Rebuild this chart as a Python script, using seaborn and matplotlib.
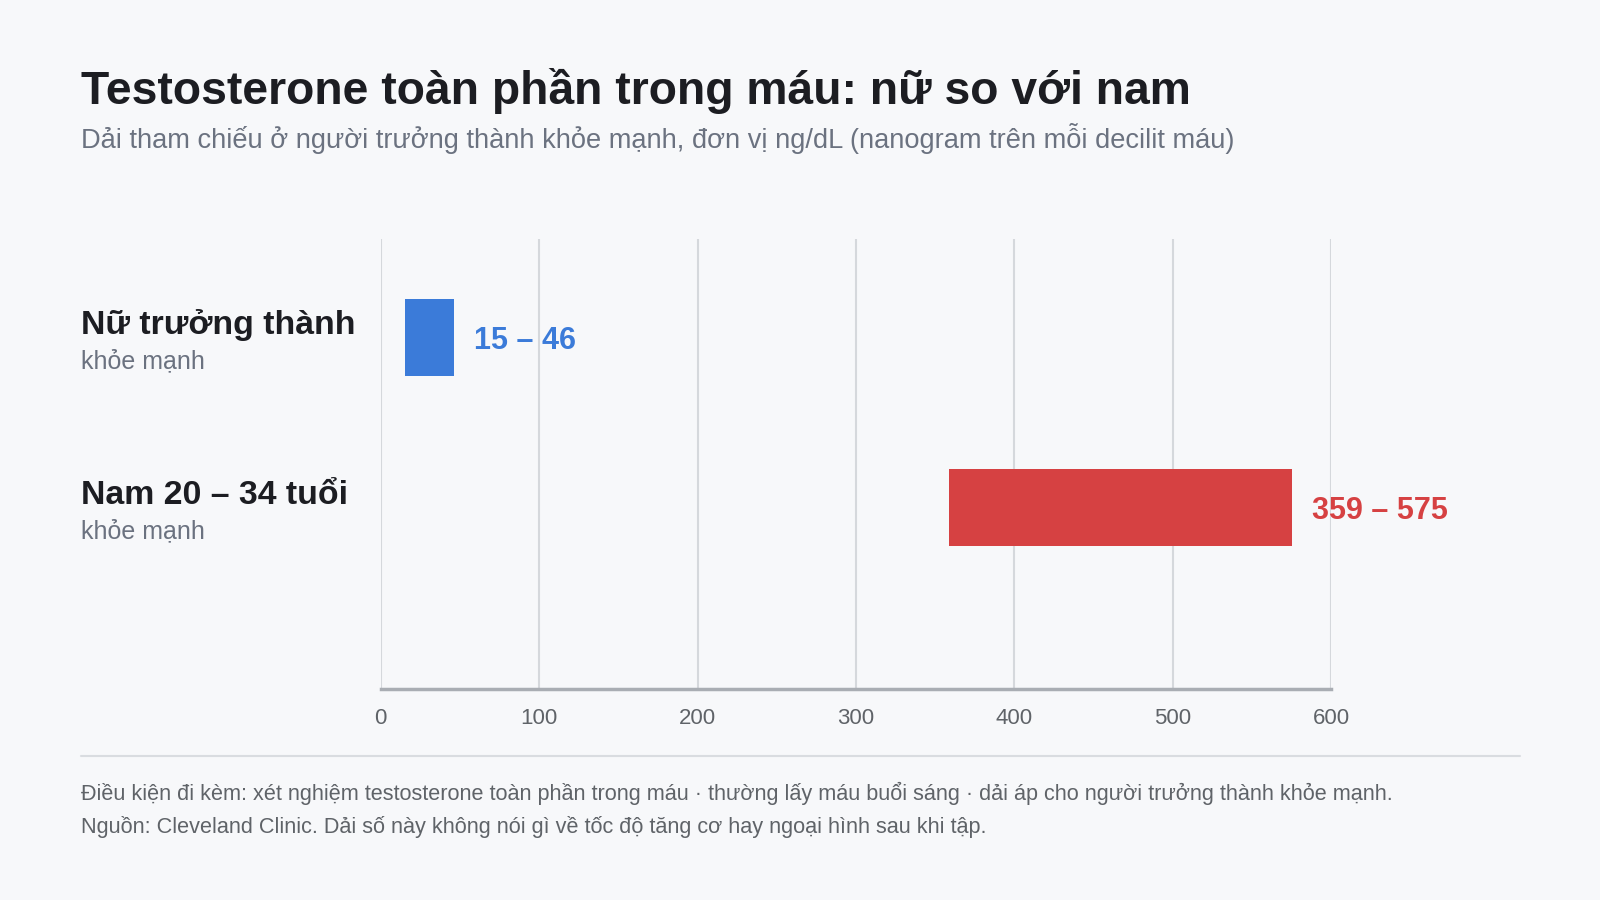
import seaborn as sns
import numpy as np
import pandas as pd
import matplotlib.pyplot as plt
from matplotlib.lines import Line2D

# ----- data -----
groups = ["Nữ trưởng thành", "Nam 20 – 34 tuổi"]
group_notes = ["khỏe mạnh", "khỏe mạnh"]
low = [15, 359]
high = [46, 575]
bar_colors = ["#3b7bd9", "#d64142"]
xticks = [0, 100, 200, 300, 400, 500, 600]

title = "Testosterone toàn phần trong máu: nữ so với nam"
subtitle = "Dải tham chiếu ở người trưởng thành khỏe mạnh, đơn vị ng/dL (nanogram trên mỗi decilit máu)"
foot1 = "Điều kiện đi kèm: xét nghiệm testosterone toàn phần trong máu · thường lấy máu buổi sáng · dải áp cho người trưởng thành khỏe mạnh."
foot2 = "Nguồn: Cleveland Clinic. Dải số này không nói gì về tốc độ tăng cơ hay ngoại hình sau khi tập."

bg = "#f7f8fa"
sns.set_theme(style="white")
plt.rcParams["font.family"] = ["Liberation Sans", "DejaVu Sans"]

df = pd.DataFrame({"group": groups, "span": np.array(high) - np.array(low)})

fig = plt.figure(figsize=(16, 9), dpi=100, facecolor=bg)
ax = fig.add_axes([0.238, 0.234, 0.594, 0.500])
ax.set_facecolor(bg)

sns.barplot(data=df, x="span", y="group", left=low, width=0.45,
            color=bar_colors[0], ax=ax, linewidth=0)
for patch, c in zip(ax.patches, bar_colors):
    patch.set_facecolor(c)

ax.set_xlim(0, 600)
ax.set_ylim(2.066, -0.575)
ax.set_xticks(xticks)
ax.set_xticklabels([str(t) for t in xticks], fontsize=16, color="#5f6368")
ax.tick_params(axis="x", length=0, pad=13.5)
ax.set_yticks([])
ax.set_xlabel("")
ax.set_ylabel("")
ax.grid(axis="x", color="#d5d8dc", linewidth=1.5)
ax.set_axisbelow(True)
for s in ["top", "right", "left"]:
    ax.spines[s].set_visible(False)
ax.spines["bottom"].set_color("#a9adb3")
ax.spines["bottom"].set_linewidth(2.5)

# value labels
for i, (lo, hi, c) in enumerate(zip(low, high, bar_colors)):
    ax.annotate(f"{lo} – {hi}", xy=(hi, i), xytext=(15, -2.5), textcoords="offset points",
                va="center", ha="left", fontsize=22, fontweight="bold", color=c)

# category labels
label_y = [0.639, 0.450]
for name, note, y in zip(groups, group_notes, label_y):
    fig.text(0.0504, y, name, fontsize=24.4, fontweight="bold", color="#1c1d22", va="center")
    fig.text(0.0504, y - 0.040, note, fontsize=18, color="#6b7280", va="center")

fig.text(0.0504, 0.899, title, fontsize=33.3, fontweight="bold", color="#1c1d22", va="center")
fig.text(0.0504, 0.846, subtitle, fontsize=19.6, color="#6b7280", va="center")

fig.add_artist(Line2D([0.0504, 0.950], [0.160, 0.160], color="#d9dce0", linewidth=1.5))
fig.text(0.0504, 0.118, foot1, fontsize=15.6, color="#5f6368", va="center")
fig.text(0.0504, 0.081, foot2, fontsize=15.6, color="#5f6368", va="center")

fig.savefig("out.png", dpi=100, facecolor=bg)
